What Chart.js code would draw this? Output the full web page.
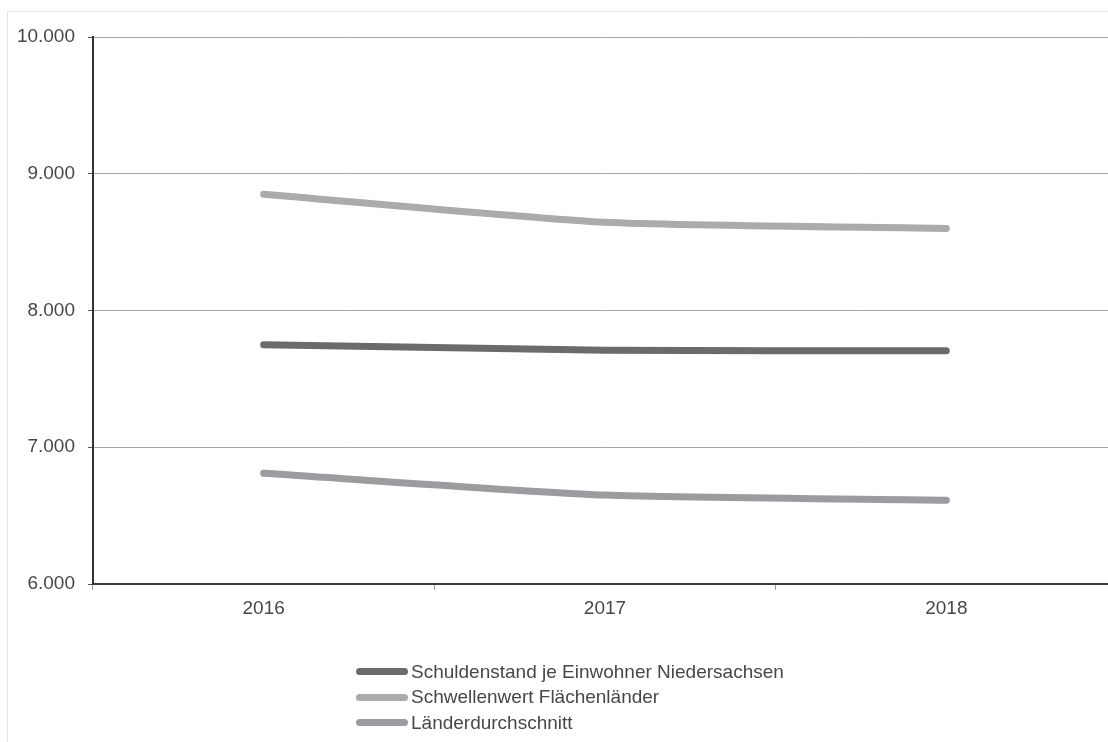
<!DOCTYPE html>
<html lang="de">
<head>
<meta charset="utf-8">
<title>Schuldenstand je Einwohner</title>
<script src="https://cdn.jsdelivr.net/npm/chart.js@4/dist/chart.umd.min.js"></script>
<style>
    html, body {
        margin: 0;
        padding: 0;
        background: #ffffff;
        overflow: hidden;
        width: 1108px;
        height: 742px;
    }
    #frame {
        position: absolute;
        left: 7px;
        top: 11px;
        width: 2000px;
        height: 2000px;
        border: 1px solid #e4e4e4;
    }
    #chart {
        position: absolute;
        left: 0;
        top: 0;
    }
    #legend {
        position: absolute;
        left: 356px;
        top: 659px;
        font-family: "Liberation Sans", Arial, sans-serif;
        font-size: 19px;
        color: #474747;
    }
    .legend-row {
        display: flex;
        align-items: center;
        height: 25.5px;
    }
    .legend-swatch {
        display: inline-block;
        width: 52px;
        height: 7px;
        border-radius: 4px;
        margin-right: 3px;
    }
</style>
</head>
<body>
<div id="frame"></div>
<canvas id="chart" width="1130" height="742"></canvas>
<div id="legend"></div>

<script>
// Data
const years = ['2016', '2017', '2018'];
const schuldenstand = [7750, 7710, 7705];
const schwellenwert = [8850, 8645, 8600];
const laenderdurchschnitt = [6810, 6650, 6612];

const seriesLabels = [
    'Schuldenstand je Einwohner Niedersachsen',
    'Schwellenwert Flächenländer',
    'Länderdurchschnitt'
];
const seriesColors = ['#6b6b6b', '#ababab', '#9c9ca0'];

// German thousands separator
function formatDe(value) {
    return String(value).replace(/\B(?=(\d{3})+(?!\d))/g, '.');
}

function makeDataset(label, data, color) {
    return {
        label: label,
        data: data,
        borderColor: color,
        backgroundColor: color,
        borderWidth: 7,
        borderCapStyle: 'round',
        borderJoinStyle: 'round',
        pointRadius: 0,
        pointHoverRadius: 0,
        tension: 0.2,
        fill: false
    };
}

const tickFont = { family: '"Liberation Sans", Arial, sans-serif', size: 19 };

const ctx = document.getElementById('chart').getContext('2d');

const chart = new Chart(ctx, {
    type: 'line',
    data: {
        labels: years,
        datasets: [
            makeDataset(seriesLabels[0], schuldenstand, seriesColors[0]),
            makeDataset(seriesLabels[1], schwellenwert, seriesColors[1]),
            makeDataset(seriesLabels[2], laenderdurchschnitt, seriesColors[2])
        ]
    },
    options: {
        responsive: false,
        animation: false,
        layout: {
            padding: { top: 37, right: 13, bottom: 118, left: 0 }
        },
        plugins: {
            legend: { display: false },
            tooltip: { enabled: false }
        },
        scales: {
            x: {
                offset: true,
                afterFit: (scale) => { scale.height = 40; },
                border: { color: '#3a3a3a', width: 2 },
                grid: {
                    offset: true,
                    drawOnChartArea: false,
                    drawTicks: true,
                    tickLength: 6,
                    color: '#999999'
                },
                ticks: {
                    color: '#474747',
                    padding: 7,
                    font: tickFont
                }
            },
            y: {
                min: 6000,
                max: 10000,
                afterFit: (scale) => { scale.width = 93; },
                border: { color: '#333333', width: 2 },
                grid: {
                    color: '#a6a6a6',
                    lineWidth: 1,
                    tickLength: 5,
                    tickColor: '#555555'
                },
                ticks: {
                    stepSize: 1000,
                    color: '#474747',
                    padding: 13,
                    font: tickFont,
                    callback: (value) => formatDe(value)
                }
            }
        }
    }
});

// Legend as a left-aligned column
const legend = document.getElementById('legend');
chart.data.datasets.forEach((ds) => {
    const row = document.createElement('div');
    row.className = 'legend-row';
    const swatch = document.createElement('span');
    swatch.className = 'legend-swatch';
    swatch.style.background = ds.borderColor;
    const text = document.createElement('span');
    text.textContent = ds.label;
    row.appendChild(swatch);
    row.appendChild(text);
    legend.appendChild(row);
});
</script>
</body>
</html>
